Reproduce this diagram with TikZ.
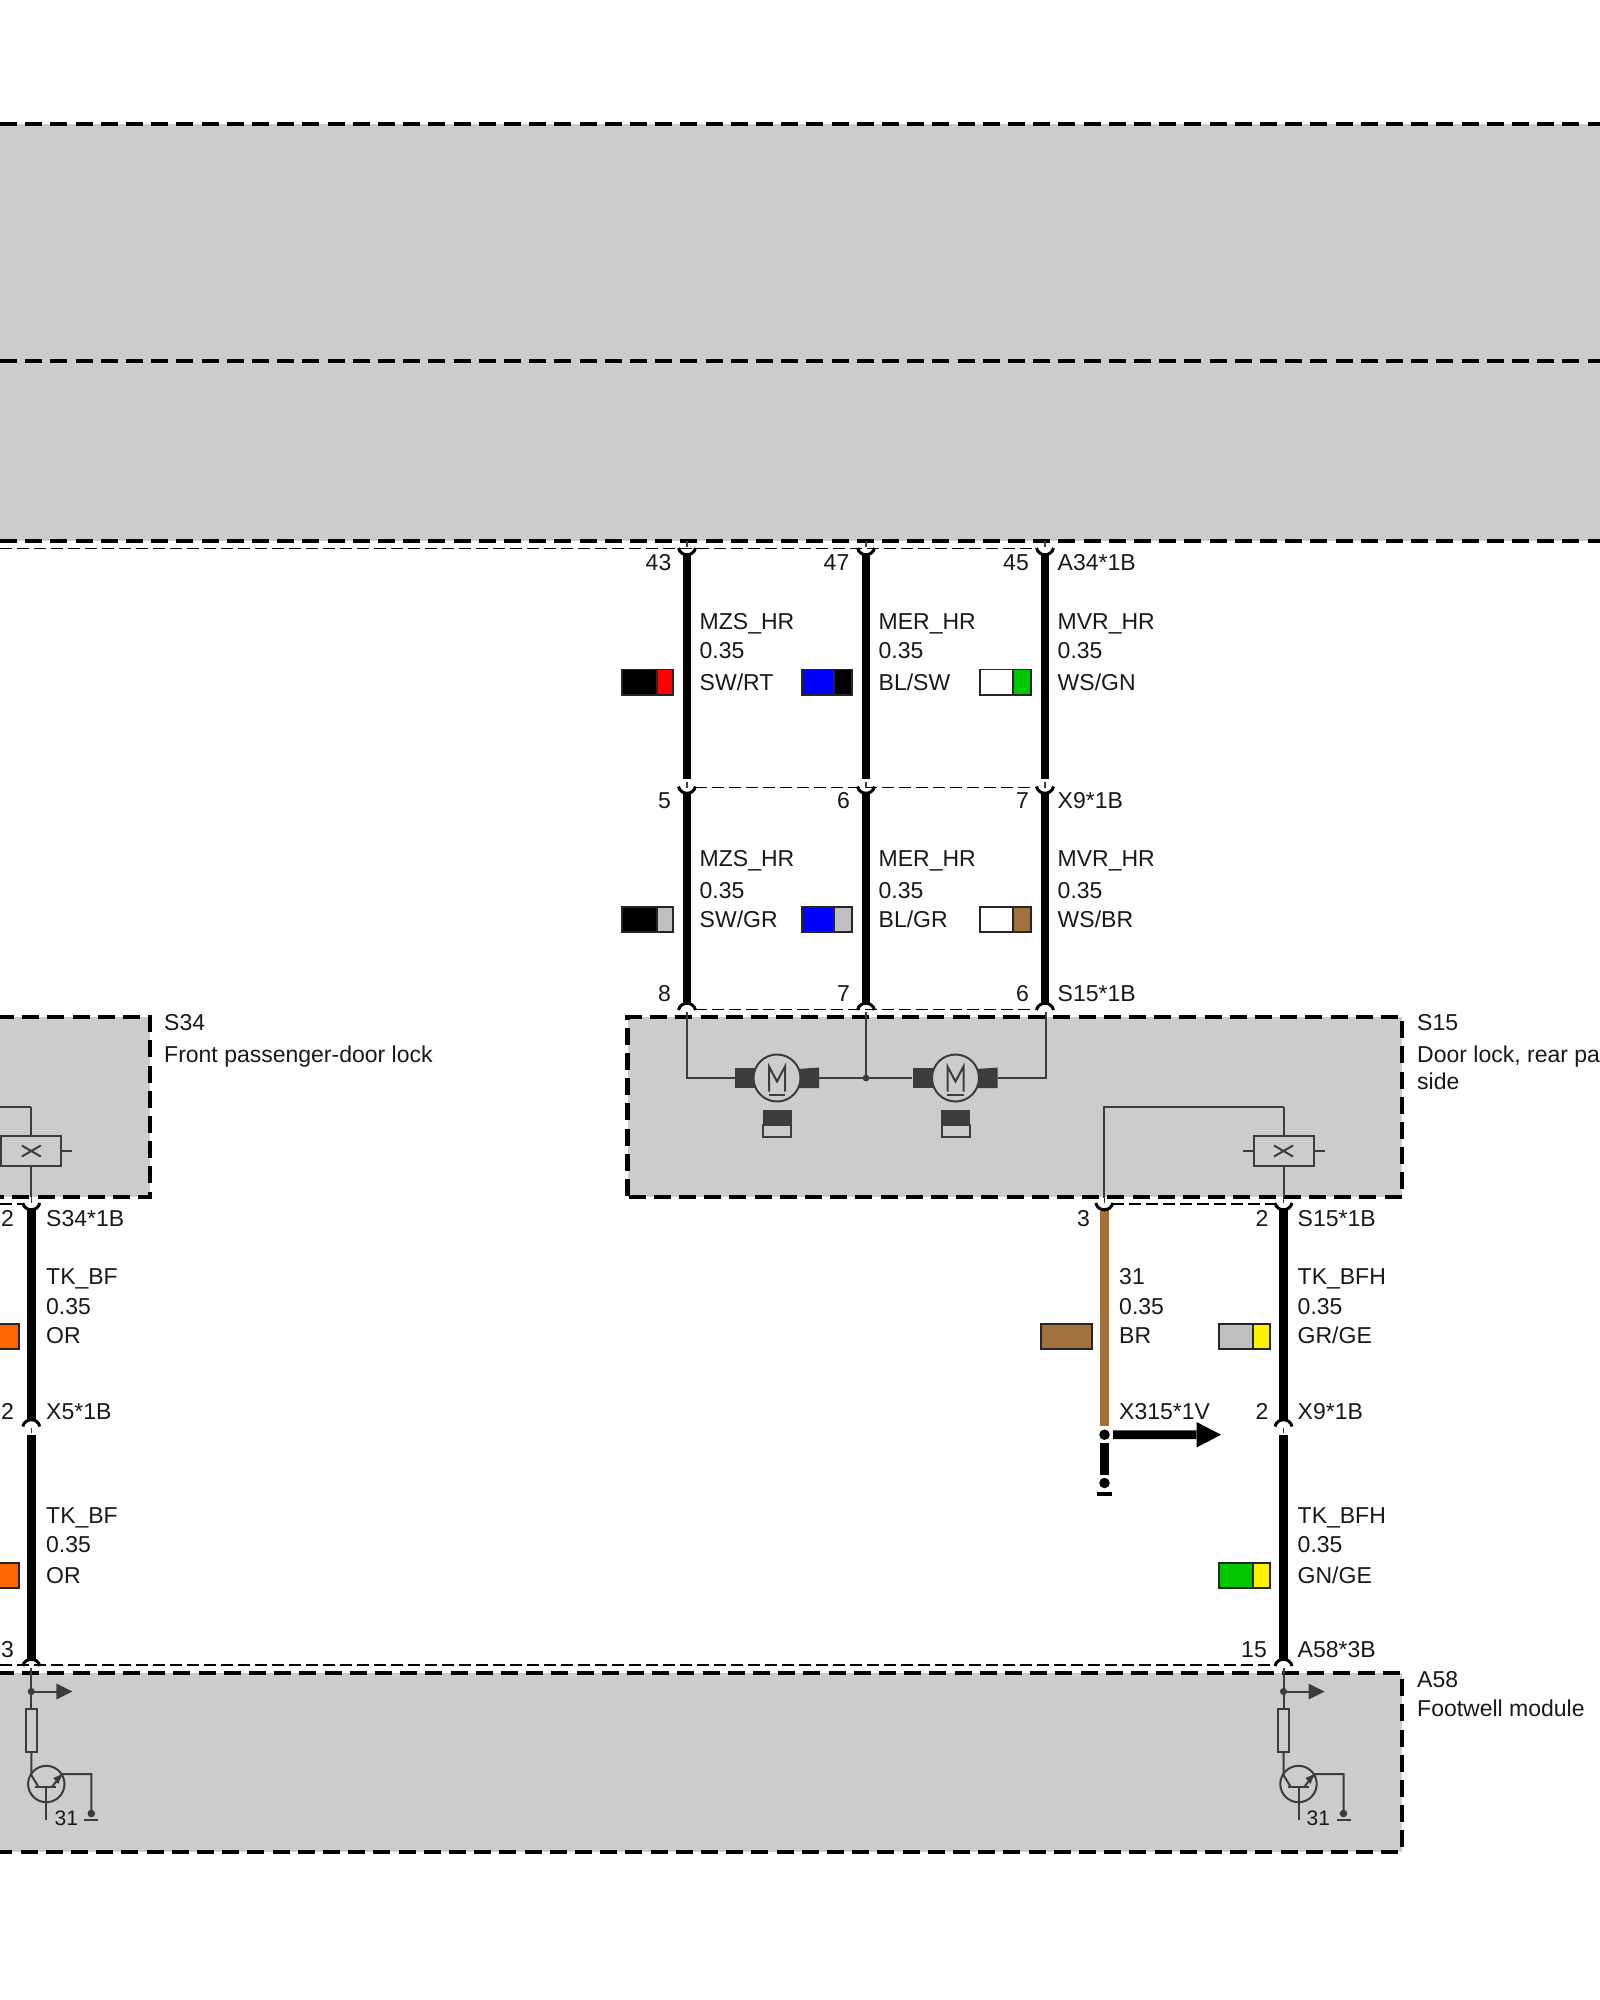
\documentclass[tikz,border=0pt]{standalone}
\usepackage{fontspec}
\setmainfont{Liberation Sans}
\definecolor{boxgrey}{HTML}{CCCCCC}
\definecolor{ink}{HTML}{3C3C3C}
\definecolor{wbrown}{HTML}{A2703C}
\definecolor{cgrey}{HTML}{C0C0C0}
\definecolor{corange}{HTML}{FF6600}
\definecolor{cgreen}{HTML}{00C800}
\tikzset{
  x=1pt,y=-1pt,
  boxline/.style={line width=4.9pt,dash pattern=on 17pt off 8.2pt,black},
  thinline/.style={line width=1.7pt,dash pattern=on 12pt off 5pt,black},
  ink line/.style={line width=2pt,ink},
  wirestyle/.style={line width=8.6pt,line cap=butt},
  conn/.style={line width=3pt,black},
  lab/.style={inner sep=0pt,anchor=base west,font=\fontsize{23}{27}\selectfont,text=black!90},
  labr/.style={inner sep=0pt,anchor=base east,font=\fontsize{23}{27}\selectfont,text=black!90},
  swatch/.style={draw=black!85,line width=1.6pt},
}
% wire between two named coordinates
\newcommand{\wirerun}[5][black]{%
  \coordinate (#2a) at (#3,#4); \coordinate (#2b) at (#3,#5);
  \draw[wirestyle,draw=#1] (#2a) -- (#2b);}
% U-shaped connector with legs at y, open to the top
\newcommand{\cupc}[2]{%
  \draw[conn] (#1-8.5,#2) .. controls (#1-6.5,#2+9) and (#1+6.5,#2+9) .. (#1+8.5,#2);}
% cap-shaped connector with legs at y, open to the bottom
\newcommand{\capc}[2]{%
  \draw[conn] (#1-8.5,#2) .. controls (#1-6.5,#2-9) and (#1+6.5,#2-9) .. (#1+8.5,#2);}
\newcommand{\stub}[3]{\draw[line width=1.6pt,ink] (#1,#2) -- (#1,#3);}
\newcommand{\swatchbox}[7]{%
  \fill[#6] (#1,#4) rectangle (#2,#5);
  \fill[#7] (#2,#4) rectangle (#3,#5);
  \draw[swatch] (#1,#4) rectangle (#3,#5);
  \draw[swatch] (#2,#4) -- (#2,#5);}
\newcommand{\solidswatch}[5]{%
  \fill[#5] (#1,#3) rectangle (#2,#4);
  \draw[swatch] (#1,#3) rectangle (#2,#4);}
\newcommand{\motor}[2]{%
  \begin{scope}[shift={(#1,#2)}]
    \fill[ink] (-42.5,-10) rectangle (-22,10);
    \fill[ink] (21,-9) -- (42,-10.5) -- (42,10) -- (21,10) -- cycle;
    \draw[ink line,fill=boxgrey] (0,0) circle (23.5);
    \draw[ink line] (-8,13.5) -- (-8,-11.5) -- (0,3.5) -- (8,-11.5) -- (8,13.5);
    \draw[ink line] (-8.5,17) -- (8,17);
    \fill[ink] (-14.5,32) rectangle (14.5,47);
    \draw[ink line] (-14,47) rectangle (14,59);
  \end{scope}}
\newcommand{\doorswitch}[2]{%
  \begin{scope}[shift={(#1,#2)}]
    \draw[ink line] (0,-44) -- (0,-15);
    \draw[ink line] (-30,-15) rectangle (30,15);
    \draw[ink line] (-41,0) -- (-30,0) (30,0) -- (41,0);
    \draw[ink line] (-9.5,-5.5) -- (9.5,5.5) (-9.5,5.5) -- (9.5,-5.5);
    \draw[ink line] (0,15) -- (0,46);
  \end{scope}}
\newcommand{\drive}[1]{%
  \begin{scope}[shift={(#1,0)}]
    \draw[ink line] (0,1668) -- (0,1708.5);
    \fill[ink] (0,1691.5) circle (3.6);
    \draw[ink line] (0,1691.5) -- (26,1691.5);
    \fill[ink] (25,1683.5) -- (41,1691.5) -- (25,1699.5) -- cycle;
    \draw[ink line] (-5.5,1708.5) rectangle (5.5,1751.5);
    \draw[ink line] (0,1751.5) -- (0,1775) -- (7,1786.5);
    \draw[ink line] (15,1784) circle (18.2);
    \draw[ink line] (4,1786.5) -- (25,1786.5);
    \draw[ink line] (15,1786.5) -- (15,1820);
    \draw[ink line] (21,1786.5) -- (31,1774) -- (60,1774) -- (60,1813);
    \fill[ink] (31,1774) -- (22,1778) -- (27,1784) -- cycle;
    \fill[ink] (60,1813.5) circle (3.8);
    \draw[ink line] (53,1819.5) -- (67,1819.5);
  \end{scope}}
\begin{document}
\begin{tikzpicture}
\useasboundingbox (0,0) rectangle (1600,2000);
\clip (0,0) rectangle (1600,2000);
\fill[white] (0,0) rectangle (1600,2000);

% --- grey bands and component boxes
\fill[boxgrey] (0,124) rectangle (1600,541);
\draw[boxline] (0,124) -- (1600,124);
\draw[boxline] (0,361) -- (1600,361);
\draw[boxline] (0,541) -- (1600,541);

\fill[boxgrey] (-20,1017) rectangle (150,1197);
\draw[boxline] (-3,1017) -- (150,1017) -- (150,1197) -- (-3,1197);
\fill[boxgrey] (627.5,1017) rectangle (1402,1197);
\draw[boxline] (627.5,1196) -- (627.5,1017) -- (1402,1017) -- (1402,1197) -- (627.5,1197);
\fill[boxgrey] (-20,1673) rectangle (1402,1852);
\draw[boxline] (-3,1673) -- (1402,1673) -- (1402,1852) -- (-3,1852);

% --- thin dashed connector outlines
\draw[thinline] (0,548.5) -- (1037,548.5);
\draw[thinline] (695,787.5) -- (1037,787.5);
\draw[thinline] (695,1009.5) -- (1037,1009.5);
\draw[thinline] (0,1204) -- (23,1204);
\draw[thinline] (1112,1204) -- (1275,1204);
\draw[thinline] (0,1665) -- (1275,1665);

% --- wires
\foreach \n/\x in {p/687,q/866,r/1045}{
  \wirerun{\n u}{\x}{553}{779}
  \wirerun{\n l}{\x}{793}{1004}
  \stub{\x}{541}{547}
  \stub{\x}{781.5}{787.5}
  \cupc{\x}{548}
  \cupc{\x}{786.5}
  \capc{\x}{1010}
}
\foreach \n/\x in {s/31.3,t/1283.5}{
  \wirerun{\n u}{\x}{1209}{1421}
  \wirerun{\n l}{\x}{1435}{1660}
  \stub{\x}{1197}{1203}
  \stub{\x}{1428}{1433}
  \cupc{\x}{1203}
  \capc{\x}{1426.5}
  \capc{\x}{1666}
}
\wirerun[wbrown]{b}{1104.3}{1209}{1426}
\stub{1104.3}{1197}{1203}
\cupc{1104.3}{1203}

% --- end of brown wire: splice, arrow, continuation
\node[circle,fill=black,inner sep=0pt,minimum size=10.5pt] (splice) at (1104.5,1434.7) {};
\node[circle,fill=black,inner sep=0pt,minimum size=10.5pt] (splend) at (1104.5,1483) {};
\draw[line width=8.6pt] (1104.5,1443) -- (1104.5,1475);
\draw[line width=4pt] (1097,1494) -- (1112,1494);
\fill[black] (1113,1430.4) rectangle (1197,1439) (1196.5,1422) -- (1221,1434.7) -- (1196.5,1447.5) -- cycle;

% --- motors inside S15
\draw[ink line] (687,1012) -- (687,1078) -- (735,1078);
\draw[ink line] (819,1078) -- (912,1078);
\draw[ink line] (866,1012) -- (866,1078);
\draw[ink line] (998,1078) -- (1045.5,1078) -- (1045.5,1012);
\fill[ink] (866,1078) circle (3.4);
\motor{777}{1078}
\motor{955.5}{1078}

% --- door switches
\doorswitch{1283.5}{1151}
\draw[ink line] (1283.5,1107) -- (1104.3,1107) -- (1104.3,1198);
\doorswitch{31.3}{1151}
\draw[ink line] (31.3,1107) -- (-20,1107);

% --- output stages in A58
\drive{1283.5}
\drive{31.3}

% --- colour swatches
\swatchbox{622}{657}{673}{669.5}{695}{black}{red}
\swatchbox{802}{834}{852}{669.5}{695}{blue}{black}
\swatchbox{980}{1013}{1031}{669.5}{695}{white}{cgreen}
\swatchbox{622}{657}{673}{907}{932}{black}{cgrey}
\swatchbox{802}{834}{852}{907}{932}{blue}{cgrey}
\swatchbox{980}{1013}{1031}{907}{932}{white}{wbrown}
\solidswatch{-30}{19}{1324}{1349}{corange}
\solidswatch{-30}{19}{1563}{1588}{corange}
\solidswatch{1041}{1092}{1324}{1349}{wbrown}
\swatchbox{1219}{1253}{1270}{1324}{1349}{cgrey}{yellow}
\swatchbox{1219}{1253}{1270}{1563}{1588}{cgreen}{yellow}

% --- upper labels
\node[labr] (n43) at (671.5,570) {43};
\node[labr] (n47) at (849.5,570) {47};
\node[labr] (n45) at (1029,570) {45};
\node[lab] (a34) at (1057.5,570) {A34*1B};
\foreach \n/\x/\a/\c in {p/699.5/MZS\_HR/SW\slash RT,q/878.5/MER\_HR/BL\slash SW,r/1057.5/MVR\_HR/WS\slash GN}{
  \node[lab] (\n1) at (\x,629) {\a};
  \node[lab] (\n2) at (\x,658) {0.35};
  \node[lab] (\n3) at (\x,690) {\c};
}
\node[labr] (n5) at (671,808) {5};
\node[labr] (n6) at (850,808) {6};
\node[labr] (n7) at (1029,808) {7};
\node[lab] (x9u) at (1057.5,808) {X9*1B};
\foreach \n/\x/\a/\c in {u/699.5/MZS\_HR/SW\slash GR,v/878.5/MER\_HR/BL\slash GR,w/1057.5/MVR\_HR/WS\slash BR}{
  \node[lab] (\n1) at (\x,866) {\a};
  \node[lab] (\n2) at (\x,898) {0.35};
  \node[lab] (\n3) at (\x,927) {\c};
}
\node[labr] (n8) at (671,1001) {8};
\node[labr] (n7b) at (850,1001) {7};
\node[labr] (n6b) at (1029,1001) {6};
\node[lab] (s15a) at (1057.5,1001) {S15*1B};

% --- component names
\node[lab] (s34) at (164,1030) {S34};
\node[lab] (s34t) at (164,1062) {Front passenger-door lock};
\node[lab] (s15) at (1417,1030) {S15};
\node[lab] (s15t) at (1417,1062) {Door lock, rear pa};
\node[lab] (s15u) at (1417,1089) {side};
\node[lab] (a58) at (1417,1687) {A58};
\node[lab] (a58t) at (1417,1716) {Footwell module};

% --- lower labels, left
\node[labr] (l2) at (14,1226) {2};
\node[lab] (s34b) at (46,1226) {S34*1B};
\node[lab] (l3) at (46,1284) {TK\_BF};
\node[lab] (l4) at (46,1314) {0.35};
\node[lab] (l5) at (46,1343) {OR};
\node[labr] (l6) at (14,1419.5) {2};
\node[lab] (x5) at (46,1419.5) {X5*1B};
\node[lab] (l7) at (46,1523) {TK\_BF};
\node[lab] (l8) at (46,1552) {0.35};
\node[lab] (l9) at (46,1583) {OR};
\node[labr] (l10) at (14,1657) {3};

% --- lower labels, brown wire
\node[labr] (b0) at (1090,1226) {3};
\node[lab] (b1) at (1119,1284) {31};
\node[lab] (b2) at (1119,1314) {0.35};
\node[lab] (b3) at (1119,1343) {BR};
\node[lab] (x315) at (1119,1419.5) {X315*1V};

% --- lower labels, right
\node[labr] (r0) at (1268.5,1226) {2};
\node[lab] (s15b) at (1297.5,1226) {S15*1B};
\node[lab] (r1) at (1297.5,1284) {TK\_BFH};
\node[lab] (r2) at (1297.5,1314) {0.35};
\node[lab] (r3) at (1297.5,1343) {GR\slash GE};
\node[labr] (r4) at (1268.5,1419.5) {2};
\node[lab] (x9l) at (1297.5,1419.5) {X9*1B};
\node[lab] (r5) at (1297.5,1523) {TK\_BFH};
\node[lab] (r6) at (1297.5,1552) {0.35};
\node[lab] (r7) at (1297.5,1583) {GN\slash GE};
\node[labr] (r8) at (1267,1657) {15};
\node[lab] (a58b) at (1297.5,1657) {A58*3B};

% --- ground labels
\node[lab,font=\fontsize{21}{25}\selectfont] (g1) at (1306.5,1825) {31};
\node[lab,font=\fontsize{21}{25}\selectfont] (g2) at (54.5,1825) {31};
\end{tikzpicture}
\end{document}
